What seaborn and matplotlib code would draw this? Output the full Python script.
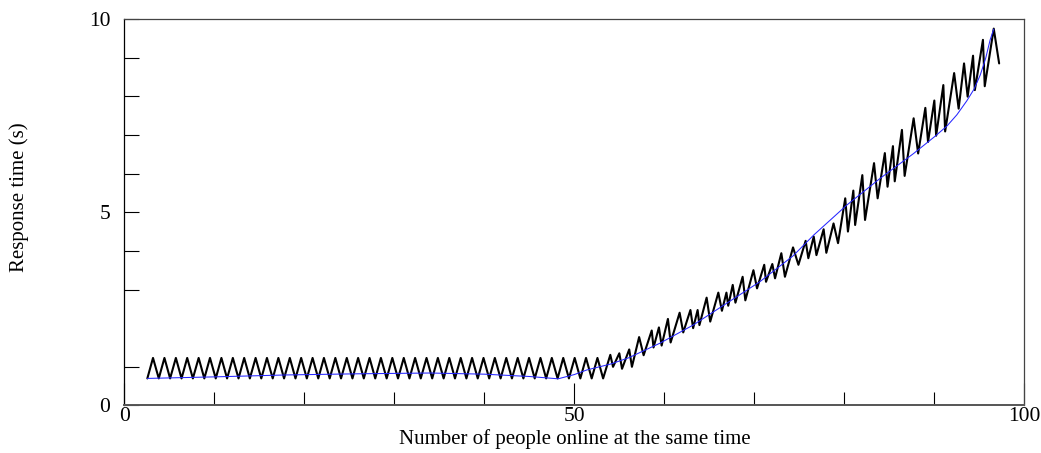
import matplotlib
matplotlib.use("Agg")
import matplotlib.pyplot as plt
import seaborn as sns
import pandas as pd

# Measured response time (zig-zag samples)
users = [
    2.56, 3.19, 3.83, 4.46, 5.09, 5.73, 6.36, 6.99, 7.62, 8.26,
    8.89, 9.52, 10.16, 10.79, 11.42, 12.06, 12.69, 13.32, 13.95, 14.59,
    15.22, 15.85, 16.49, 17.12, 17.75, 18.39, 19.02, 19.65, 20.28, 20.92,
    21.55, 22.18, 22.82, 23.45, 24.08, 24.72, 25.35, 25.98, 26.61, 27.25,
    27.88, 28.51, 29.15, 29.78, 30.41, 31.05, 31.68, 32.31, 32.94, 33.58,
    34.21, 34.84, 35.48, 36.11, 36.74, 37.38, 38.01, 38.64, 39.27, 39.91,
    40.54, 41.17, 41.81, 42.44, 43.07, 43.71, 44.34, 44.97, 45.60, 46.24,
    46.87, 47.50, 48.14, 48.77, 49.40, 50.04, 50.67, 51.30, 51.93, 52.57,
    53.20,
    54.0, 54.3, 55.0, 55.3, 56.1, 56.4, 57.2, 57.7, 58.6, 58.8,
    59.4, 59.7, 60.4, 60.7, 61.7, 62.1, 62.9, 63.2, 63.7, 63.9,
    64.7, 65.1, 66.0, 66.4, 66.9, 67.1, 67.6, 67.9, 68.7, 69.0,
    69.9, 70.3, 71.1, 71.3, 72.0, 72.3, 73.0, 73.4, 74.3, 74.9,
    75.7, 76.0, 76.6, 76.9, 77.7, 78.0, 78.8, 79.3, 80.1, 80.4,
    81.0, 81.2, 82.0, 82.3, 83.3, 83.7, 84.5, 84.8, 85.4, 85.6,
    86.4, 86.7, 87.7, 88.2, 89.0, 89.3, 90.0, 90.2, 91.0, 91.2,
    92.2, 92.7, 93.3, 93.7, 94.3, 94.5, 95.4, 95.6, 96.6, 97.2,
]
response = [
    0.70, 1.23, 0.70, 1.23, 0.70, 1.23, 0.70, 1.23, 0.70, 1.23,
    0.70, 1.23, 0.70, 1.23, 0.70, 1.23, 0.70, 1.23, 0.70, 1.23,
    0.70, 1.23, 0.70, 1.23, 0.70, 1.23, 0.70, 1.23, 0.70, 1.23,
    0.70, 1.23, 0.70, 1.23, 0.70, 1.23, 0.70, 1.23, 0.70, 1.23,
    0.70, 1.23, 0.70, 1.23, 0.70, 1.23, 0.70, 1.23, 0.70, 1.23,
    0.70, 1.23, 0.70, 1.23, 0.70, 1.23, 0.70, 1.23, 0.70, 1.23,
    0.70, 1.23, 0.70, 1.23, 0.70, 1.23, 0.70, 1.23, 0.70, 1.23,
    0.70, 1.23, 0.70, 1.23, 0.70, 1.23, 0.70, 1.23, 0.70, 1.23,
    0.70,
    1.31, 1.00, 1.35, 0.95, 1.45, 1.00, 1.77, 1.30, 1.94, 1.50,
    2.02, 1.55, 2.24, 1.63, 2.40, 1.89, 2.47, 2.00, 2.47, 2.08,
    2.79, 2.17, 2.92, 2.45, 2.92, 2.58, 3.12, 2.66, 3.33, 2.72,
    3.50, 3.03, 3.64, 3.20, 3.66, 3.29, 3.94, 3.33, 4.09, 3.64,
    4.26, 3.81, 4.37, 3.89, 4.56, 3.95, 4.71, 4.20, 5.36, 4.50,
    5.56, 4.67, 5.96, 4.80, 6.27, 5.36, 6.53, 5.66, 6.71, 5.80,
    7.13, 5.94, 7.43, 6.52, 7.70, 6.82, 7.89, 6.98, 8.29, 7.09,
    8.60, 7.68, 8.85, 7.99, 9.05, 8.16, 9.46, 8.26, 9.75, 8.85,
]

# Smoothed trend
trend_users = [2.56, 10, 18, 26, 34, 40, 45, 48.2, 50.0, 51.4, 54, 56, 59.5,
               63.2, 66.9, 70.6, 74.3, 76.6, 80.3, 84.0, 87.7, 90.0, 91.4,
               92.5, 93.6, 94.4, 95.1, 95.7, 96.2, 96.6]
trend_response = [0.70, 0.74, 0.79, 0.82, 0.84, 0.81, 0.75, 0.69, 0.80, 0.92,
                  1.07, 1.23, 1.61, 2.08, 2.64, 3.20, 3.87, 4.41, 5.19, 5.88,
                  6.52, 6.95, 7.23, 7.52, 7.88, 8.18, 8.55, 8.98, 9.46, 9.74]

x_major = [0, 50, 100]
x_minor = [10, 20, 30, 40, 60, 70, 80, 90]
y_major = [0, 5, 10]
y_minor = [1, 3, 4, 6, 7, 8, 9]

sns.set_style("white")
plt.rcParams["font.family"] = ["Liberation Serif", "DejaVu Serif"]
plt.rcParams["text.color"] = "black"
plt.rcParams["axes.labelcolor"] = "black"

samples = pd.DataFrame({"users": users, "response": response})
trend = pd.DataFrame({"users": trend_users, "response": trend_response})

fig = plt.figure(figsize=(10.41, 4.53), dpi=100)
ax = fig.add_axes([0.1194, 0.1049, 0.8646, 0.8532])

sns.lineplot(data=samples, x="users", y="response", ax=ax, color="black",
             linewidth=1.5, estimator=None, sort=False)
sns.lineplot(data=trend, x="users", y="response", ax=ax, color="#2626ff",
             linewidth=0.75, estimator=None, sort=False)

ax.set_xlim(0, 100)
ax.set_ylim(0, 10)
ax.set_xticks(x_major)
ax.set_xticks(x_minor, minor=True)
ax.set_yticks(y_major)
ax.set_yticks(y_minor, minor=True)
ax.set_xticklabels([str(v) for v in x_major])
ax.set_yticklabels([str(v) for v in y_major])

ax.tick_params(axis="both", which="both", direction="in", colors="black",
               width=0.8, labelsize=15.5, top=False, right=False,
               left=True, bottom=True)
ax.tick_params(axis="x", which="major", length=16, pad=1)
ax.tick_params(axis="x", which="minor", length=9.5)
ax.tick_params(axis="y", which="both", length=11, pad=10)

for side in ["top", "right"]:
    ax.spines[side].set_color("#444444")
    ax.spines[side].set_linewidth(0.9)
ax.spines["left"].set_color("black")
ax.spines["left"].set_linewidth(0.9)
ax.spines["bottom"].set_color("#555555")
ax.spines["bottom"].set_linewidth(1.4)

ax.set_xlabel("Number of people online at the same time", fontsize=15,
              color="black")
ax.set_ylabel("Response time (s)", fontsize=15, color="black")
ax.xaxis.set_label_coords(0.5, -0.06)
ax.yaxis.set_label_coords(-0.106, 0.54)

fig.savefig("out.png", dpi=100, facecolor="white")
